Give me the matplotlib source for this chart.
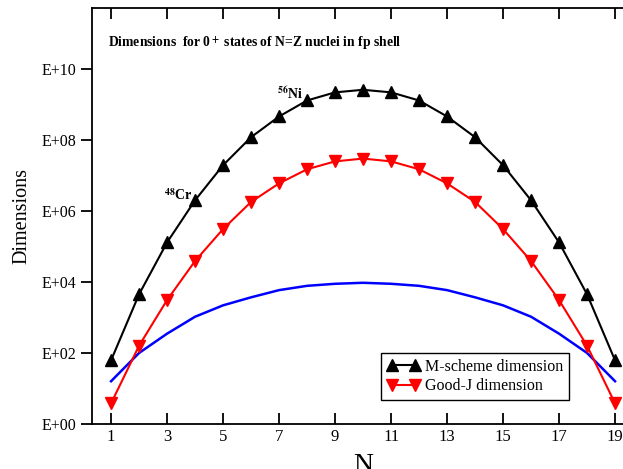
import matplotlib
matplotlib.use("Agg")
import matplotlib.pyplot as plt
import numpy as np

plt.rcParams['font.family'] = ['Liberation Serif', 'DejaVu Serif']
plt.rcParams['mathtext.fontset'] = 'stix'

N = np.arange(1, 20)

# M-scheme dimension (black up triangles)
m_scheme = [62, 4.5e3, 1.3e5, 2.0e6, 1.95e7, 1.2e8, 4.6e8, 1.3e9, 2.2e9, 2.6e9,
            2.2e9, 1.3e9, 4.6e8, 1.2e8, 1.95e7, 2.0e6, 1.3e5, 4.5e3, 62]
# Good-J dimension (red down triangles)
good_j = [3.8, 160, 3.1e3, 3.9e4, 3.1e5, 1.8e6, 6.0e6, 1.5e7, 2.5e7, 3.0e7,
          2.5e7, 1.5e7, 6.0e6, 1.8e6, 3.1e5, 3.9e4, 3.1e3, 160, 3.8]
# blue curve
blue_curve = [16, 100, 350, 1050, 2200, 3700, 5900, 7800, 8900, 9500,
              8900, 7800, 5900, 3700, 2200, 1050, 350, 100, 16]

ytick_vals = [1e0, 1e2, 1e4, 1e6, 1e8, 1e10]
ytick_labels = ["E+00", "E+02", "E+04", "E+06", "E+08", "E+10"]
xtick_vals = [1, 3, 5, 7, 9, 11, 13, 15, 17, 19]

fig = plt.figure(figsize=(6.23, 4.69), dpi=100)
ax = fig.add_axes([0.1477, 0.096, 0.871, 0.887])

ax.plot(N, blue_curve, color='blue', lw=1.8)
ax.plot(N, good_j, color='red', lw=1.5, marker='v', ms=8.5,
        label='Good-J dimension')
ax.plot(N, m_scheme, color='black', lw=1.5, marker='^', ms=8.5,
        label='M-scheme dimension')

ax.set_yscale('log')
ax.set_ylim(1, 10**11.72)
ax.set_xlim(0.32, 19.7)
ax.set_yticks(ytick_vals)
ax.set_yticklabels(ytick_labels)
ax.yaxis.set_minor_locator(matplotlib.ticker.NullLocator())
ax.set_xticks(xtick_vals)
ax.tick_params(axis='y', direction='out', length=8, width=1.3, labelsize=11.5)
ax.tick_params(axis='x', direction='in', length=8, width=1.3, labelsize=12,
               top=True)
for s in ax.spines.values():
    s.set_linewidth(1.3)

ax.set_xlabel("N", fontsize=20, labelpad=6)
ax.set_ylabel("Dimensions", fontsize=14.5, labelpad=7)

ax.text(0.03, 0.905, r"Dimensions  for 0$^{\bf +}$ states of N=Z nuclei in fp shell",
        transform=ax.transAxes, fontsize=9.8, fontweight='bold')
ax.text(3.9, 2.1e6, r"$^{\bf 48}$Cr", fontsize=10, fontweight='bold', ha='right')
ax.text(7.85, 1.45e9, r"$^{\bf 56}$Ni", fontsize=10, fontweight='bold', ha='right')

handles, labels = ax.get_legend_handles_labels()
leg = ax.legend(handles[::-1], labels[::-1], loc='lower left',
                bbox_to_anchor=(0.533, 0.058), fontsize=11.5, numpoints=2,
                handlelength=2.05, handletextpad=0.35, borderpad=0.35,
                labelspacing=0.2, fancybox=False, framealpha=1,
                borderaxespad=0)
leg.get_frame().set_edgecolor('black')
leg.get_frame().set_linewidth(1.0)

plt.savefig("out.png", dpi=100)
